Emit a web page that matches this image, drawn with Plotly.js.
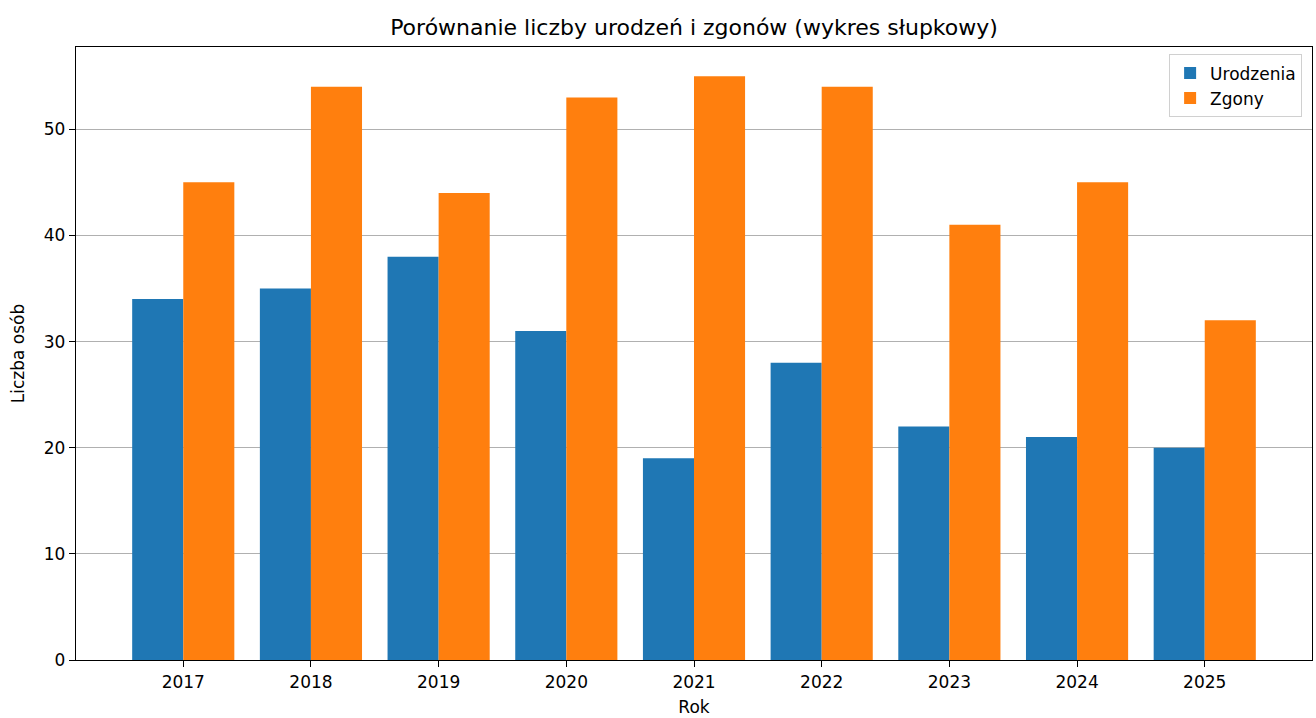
<!DOCTYPE html>
<html>
<head>
<meta charset="utf-8">
<script src="https://cdn.plot.ly/plotly-3.0.1.min.js"></script>
<style>html,body{margin:0;padding:0;background:#fff;}#chart{width:1316px;height:718px;}</style>
</head>
<body>
<div id="chart"></div>
<script>
const years = ['2017','2018','2019','2020','2021','2022','2023','2024','2025'];
const urodzenia = [34, 35, 38, 31, 19, 28, 22, 21, 20];
const zgony = [45, 54, 44, 53, 55, 54, 41, 45, 32];

const font = 'DejaVu Sans, sans-serif';
const traces = [
  {type:'bar', name:'Urodzenia', x:years, y:urodzenia, marker:{color:'#1f77b4', line:{width:0}}},
  {type:'bar', name:'Zgony', x:years, y:zgony, marker:{color:'#ff7f0e', line:{width:0}}}
];
const layout = {
  width:1316, height:718,
  margin:{l:76, r:4, t:47, b:58},
  paper_bgcolor:'#fff', plot_bgcolor:'#fff',
  font:{family:font, size:17, color:'#000'},
  barmode:'group', bargap:0.2, bargroupgap:0,
  title:{text:'Porównanie liczby urodzeń i zgonów (wykres słupkowy)', font:{family:font, size:22, color:'#000'}, xref:'paper', x:0.5, xanchor:'center', y:0.962, yanchor:'middle'},
  xaxis:{type:'category', range:[-0.84, 8.84], showline:true, mirror:true, linecolor:'#000', linewidth:1.2,
    ticks:'outside', ticklen:6, tickcolor:'#000', showgrid:false, zeroline:false,
    tickfont:{family:font, size:17, color:'#000'},
    title:{text:'Rok', font:{family:font, size:17, color:'#000'}, standoff:10}},
  yaxis:{range:[0, 57.75], dtick:10, showline:true, mirror:true, linecolor:'#000', linewidth:1.2,
    ticks:'outside', ticklen:6, tickcolor:'#000', showgrid:true, gridcolor:'#b0b0b0', gridwidth:1, zeroline:false,
    tickfont:{family:font, size:17, color:'#000'},
    title:{text:'Liczba osób', font:{family:font, size:17, color:'#000'}, standoff:14}},
  legend:{x:0.992, y:0.988, xanchor:'right', yanchor:'top', bgcolor:'rgba(255,255,255,0.8)', bordercolor:'#d0d0d0', borderwidth:1,
    font:{family:font, size:17, color:'#000'}},
  showlegend:true
};
Plotly.newPlot('chart', traces, layout, {displayModeBar:false, staticPlot:true});
</script>
</body>
</html>
